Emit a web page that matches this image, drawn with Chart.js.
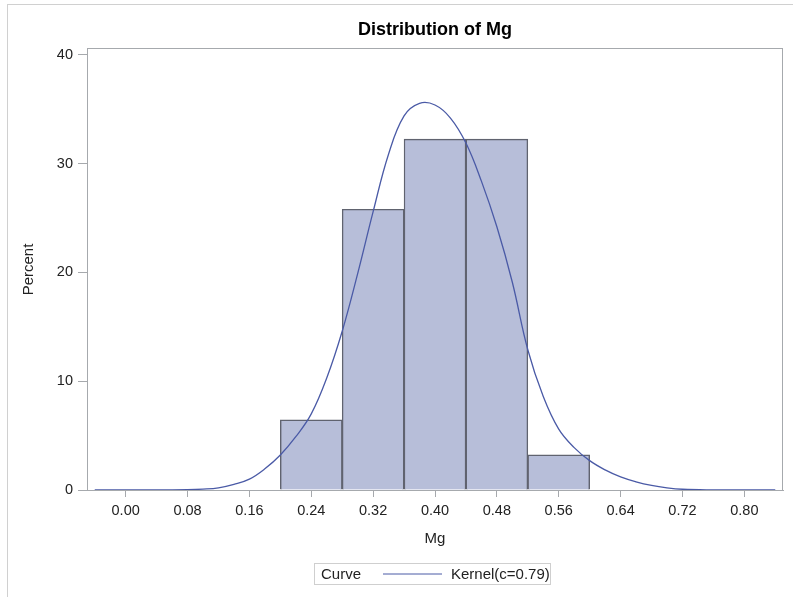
<!DOCTYPE html>
<html>
<head>
<meta charset="utf-8">
<title>Distribution of Mg</title>
<script src="https://cdn.jsdelivr.net/npm/chart.js@4.4.1/dist/chart.umd.min.js"></script>
<style>
  html, body { margin: 0; padding: 0; background: #fff; }
  #wrap { position: relative; width: 793px; height: 597px; }
</style>
</head>
<body>
<div id="wrap">
  <canvas id="mgChart" width="793" height="597"></canvas>
</div>
<script>
// histogram bins (midpoints) and percent of observations
const binMid = [0.24, 0.32, 0.40, 0.48, 0.56];
const binPercent = [6.45, 25.81, 32.26, 32.26, 3.23];

// kernel density curve
const kdeX = [-0.04, 0.00, 0.04, 0.08, 0.10, 0.12, 0.14, 0.16, 0.18, 0.20, 0.22, 0.24, 0.26, 0.28,
              0.30, 0.32, 0.34, 0.36, 0.38, 0.40, 0.42, 0.44, 0.46, 0.48, 0.50, 0.52, 0.54,
              0.56, 0.58, 0.60, 0.62, 0.64, 0.66, 0.68, 0.70, 0.72, 0.76, 0.80, 0.84];
const kdeY = [0.0, 0.0, 0.01, 0.03, 0.08, 0.2, 0.52, 1.0, 1.95, 3.22, 4.9, 7.0, 10.3, 14.6,
              19.9, 25.6, 30.9, 34.4, 35.55, 35.4, 34.2, 31.9, 28.4, 24.2, 19.1, 12.9, 8.6,
              5.6, 3.9, 2.7, 1.85, 1.2, 0.75, 0.42, 0.2, 0.07, 0.01, 0.0, 0.0];

const xTicks = [0.00, 0.08, 0.16, 0.24, 0.32, 0.40, 0.48, 0.56, 0.64, 0.72, 0.80];
const yTicks = [0, 10, 20, 30, 40];

const titleText = 'Distribution of Mg';
const legendTitle = 'Curve';
const curveLabel = 'Kernel(c=0.79)';

const FONT = '"Liberation Sans", Arial, sans-serif';
const axisGray = '#a6a9ad';

// title, plot frame, outer frame and the boxed legend
const sasDecor = {
    id: 'sasDecor',
    beforeDraw(chart) {
        const ctx = chart.ctx;
        ctx.save();
        ctx.strokeStyle = '#d0d0d0';
        ctx.lineWidth = 1;
        ctx.strokeRect(7.5, 4.5, 800, 600);
        ctx.restore();
    },
    afterDraw(chart) {
        const ctx = chart.ctx;
        const a = chart.chartArea;
        const cx = (a.left + a.right) / 2;
        ctx.save();
        // plot frame
        ctx.strokeStyle = axisGray;
        ctx.lineWidth = 1;
        ctx.strokeRect(Math.round(a.left) + 0.5, Math.round(a.top) - 0.5,
                       Math.round(a.right - a.left) - 1, Math.round(a.bottom - a.top) + 1);

        // title
        ctx.fillStyle = '#000';
        ctx.font = 'bold 18px ' + FONT;
        ctx.textAlign = 'center';
        ctx.textBaseline = 'alphabetic';
        ctx.fillText(titleText, cx, 35);

        // legend
        const bx = cx - 121, by = 563.5, bw = 236, bh = 21;
        ctx.strokeStyle = '#cfcfcf';
        ctx.strokeRect(Math.round(bx) + 0.5, by, bw, bh);
        ctx.fillStyle = '#222';
        ctx.font = '15px ' + FONT;
        ctx.textAlign = 'left';
        ctx.fillText(legendTitle, bx + 7, 579);
        ctx.strokeStyle = '#4a5aa6';
        ctx.beginPath();
        ctx.moveTo(bx + 69, 574);
        ctx.lineTo(bx + 128, 574);
        ctx.stroke();
        ctx.fillText(curveLabel, bx + 137, 579);
        ctx.restore();
    }
};

const ctx = document.getElementById('mgChart').getContext('2d');
new Chart(ctx, {
    type: 'bar',
    data: {
        datasets: [
            {
                type: 'line',
                label: curveLabel,
                data: kdeX.map((x, i) => ({ x: x, y: kdeY[i] })),
                borderColor: '#4a5aa6',
                borderWidth: 1.3,
                pointRadius: 0,
                fill: false,
                tension: 0.4,
                order: 0
            },
            {
                type: 'bar',
                label: 'Percent',
                data: binMid.map((x, i) => ({ x: x, y: binPercent[i] })),
                backgroundColor: '#b7bed9',
                borderColor: '#60636f',
                borderWidth: 1.4,
                barPercentage: 1,
                categoryPercentage: 1,
                order: 1
            }
        ]
    },
    options: {
        responsive: false,
        animation: false,
        devicePixelRatio: 1,
        layout: {
            padding: { top: 49, right: 10, bottom: 37, left: 0 }
        },
        plugins: {
            legend: { display: false },
            tooltip: { enabled: false },
            title: { display: false }
        },
        scales: {
            x: {
                type: 'linear',
                min: -0.05,
                max: 0.85,
                offset: false,
                afterFit(scale) { scale.height = 70; },
                afterBuildTicks(scale) { scale.ticks = xTicks.map(v => ({ value: v })); },
                grid: {
                    offset: false,
                    drawOnChartArea: false,
                    drawTicks: true,
                    tickLength: 7,
                    color: axisGray
                },
                border: { display: true, color: axisGray },
                ticks: {
                    padding: 5,
                    color: '#222',
                    font: { family: FONT, size: 14.5 },
                    maxRotation: 0,
                    autoSkip: false,
                    callback: v => Number(v).toFixed(2)
                },
                title: {
                    display: true,
                    text: 'Mg',
                    color: '#222',
                    font: { family: FONT, size: 15 },
                    padding: { top: 0, bottom: 12 }
                }
            },
            y: {
                min: 0,
                max: 40.55,
                afterFit(scale) { scale.width = 87; },
                afterBuildTicks(scale) { scale.ticks = yTicks.map(v => ({ value: v })); },
                grid: {
                    drawOnChartArea: false,
                    drawTicks: true,
                    tickLength: 9,
                    color: axisGray
                },
                border: { display: true, color: axisGray },
                ticks: {
                    padding: 5,
                    color: '#222',
                    font: { family: FONT, size: 14.5 },
                    callback: v => String(v)
                },
                title: {
                    display: true,
                    text: 'Percent',
                    color: '#222',
                    font: { family: FONT, size: 15 },
                    padding: { top: 19.5, bottom: 0 }
                }
            }
        }
    },
    plugins: [sasDecor]
});
</script>
</body>
</html>
